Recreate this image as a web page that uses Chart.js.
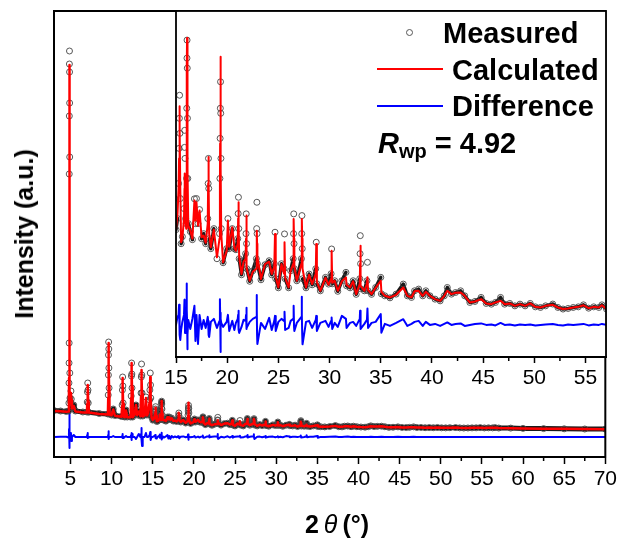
<!DOCTYPE html>
<html><head><meta charset="utf-8">
<script src="https://cdn.jsdelivr.net/npm/chart.js@4.4.0/dist/chart.umd.min.js"></script>
<style>
html,body{margin:0;padding:0;background:#fff;}
#wrap{position:relative;width:620px;height:542px;overflow:hidden;font-family:'Liberation Sans',Arial,sans-serif;color:#000;}
canvas{position:absolute;}
.t{position:absolute;white-space:nowrap;font-weight:bold;}
</style></head><body>
<div id="wrap">
<canvas id="main" width="620" height="542" style="left:0;top:0;width:620px;height:542px"></canvas>
<canvas id="inset" width="470" height="400" style="left:150px;top:0;width:470px;height:400px"></canvas>
<div class="t" style="left:24px;top:234px;font-size:25px;line-height:30px;transform:translate(-50%,-50%) rotate(-90deg);">Intensity (a.u.)</div>
<div class="t" style="left:237px;top:509px;width:200px;text-align:center;font-size:25px;line-height:30px;">2&thinsp;<span style="font-style:italic;font-weight:normal;">θ</span>&thinsp;(°)</div>
<div style="position:absolute;left:406px;top:29px;width:5px;height:5px;border:1px solid #555;border-radius:50%;"></div>
<div class="t" style="left:443px;top:18.5px;font-size:29px;line-height:29px;">Measured</div>
<div style="position:absolute;left:377px;top:68px;width:66px;height:2px;background:#ff0000;"></div>
<div class="t" style="left:452px;top:55.5px;font-size:29px;line-height:29px;">Calculated</div>
<div style="position:absolute;left:377px;top:105px;width:66px;height:2px;background:#0000ff;"></div>
<div class="t" style="left:452px;top:92px;font-size:29px;line-height:29px;">Difference</div>
<div class="t" style="left:378px;top:128.5px;font-size:29px;line-height:29px;"><i>R</i><span style="font-size:20px;vertical-align:-4.5px;">wp</span> = 4.92</div>
</div>
<script>
// 2theta grid (degrees)
const theta = [
 3.00, 3.80, 4.50, 4.78,
 4.81, 4.82, 4.83, 4.84, 4.85, 4.86, 4.87, 4.88, 4.89, 4.90, 4.91, 4.92, 4.94,
 5.02, 5.06, 5.10, 5.18, 5.40, 5.60,
 6.50, 7.00, 7.04, 7.07, 7.10, 7.13, 7.16, 7.22,
 8.50, 9.55, 9.59, 9.61, 9.62, 9.64, 9.66, 9.67, 9.69, 9.74, 10.00, 10.20, 10.40,
 11.20, 11.28, 11.31, 11.34, 11.37, 11.40, 11.48, 11.60, 11.75, 11.90,
 12.30, 12.38, 12.41, 12.43, 12.46, 12.48, 12.56, 12.80, 12.96, 13.10,
 13.30, 13.50, 13.58, 13.61, 13.64, 13.67, 13.70, 13.78, 14.00, 14.17, 14.30,
 14.45, 14.62, 14.65, 14.70, 14.73, 14.76, 14.85,
 15.00, 15.15, 15.25, 15.30, 15.33, 15.35, 15.38, 15.42, 15.50, 15.62,
 15.78, 15.83, 15.85, 15.88, 15.94, 16.00, 16.03, 16.05, 16.07, 16.08, 16.10, 16.12, 16.15, 16.20, 16.40, 16.60,
 16.80, 16.90, 17.00, 17.15, 17.30, 17.50, 17.70, 17.90, 18.10, 18.14, 18.17, 18.20, 18.24, 18.40,
 18.70, 19.00, 19.25, 19.29, 19.31, 19.33, 19.35, 19.37, 19.39, 19.42, 19.60,
 19.95, 20.07, 20.20, 20.50, 20.70, 20.85, 21.03, 21.07, 21.10, 21.13, 21.17,
 21.40, 21.60, 21.80, 21.84, 21.86, 21.89, 21.92, 22.20, 22.50, 22.85, 22.88, 22.90, 22.92, 22.95,
 23.30, 23.70, 24.10, 24.35, 24.60, 24.67, 24.74, 25.00,
 25.30, 25.55, 25.60, 25.66, 26.00, 26.20, 26.45, 26.48, 26.50, 26.53, 26.56, 26.80,
 27.25, 27.28, 27.30, 27.33, 27.36, 27.70, 28.00, 28.30, 28.65, 28.70, 28.76,
 29.10, 29.60, 29.90, 30.15, 30.20, 30.26, 30.50, 30.80, 31.20, 31.60, 31.66, 32.00, 32.30, 32.60,
 32.95, 32.98, 33.00, 33.03, 33.06, 33.40, 33.65, 33.70, 33.76, 34.10, 34.50, 35.00, 35.06, 35.40, 35.90, 36.50,
 37.20, 37.60, 38.00, 38.30, 38.70, 39.10, 39.40, 39.80, 40.30, 40.80, 41.20, 41.50, 41.90, 42.30, 42.80, 43.20, 43.70, 44.20, 44.80, 45.30, 45.80,
 46.20, 46.70, 47.10, 47.60, 48.10, 48.60, 49.10, 49.60, 50.10, 50.60, 51.10, 51.80, 52.30, 52.80, 53.30, 53.80, 54.30, 54.80, 55.30, 55.80, 56.30, 56.60, 57.05,
 58.5, 60.0, 62.5, 65.0, 67.5, 70.0
];
// measured intensity (a.u.)
const measured = [
 4750, 4700, 4650, 4700,
 5500, 7500, 9500, 11500, 28400, 34200, 39400, 40700, 38600, 35500, 30100, 8500, 6000,
 5600, 6700, 5900, 5000, 5300, 4700,
 4600, 4600, 5600, 6600, 7500, 6800, 5500, 4580,
 4450, 4400, 6300, 8300, 10300, 11600, 10900, 9000, 7000, 4400, 4300, 4900, 4250,
 4150, 5300, 6800, 8100, 7200, 5500, 4150, 4100, 4800, 4100,
 4100, 6200, 8200, 9500, 8400, 7000, 4100, 4400, 5300, 4300,
 4700, 4200, 6500, 8100, 9400, 8300, 6500, 4200, 4300, 6100, 4300,
 4600, 5800, 6800, 8500, 7300, 6000, 4100,
 3790, 3900, 4250, 4600, 4900, 5130, 4750, 4100, 3650, 3720,
 4000, 4610, 4780, 4500, 3900, 3850, 4300, 5000, 5500, 5680, 5400, 4900, 4300, 3850, 3770, 3690,
 4097, 3850, 4100, 3850, 3990, 3700, 3750, 3650, 3900, 4250, 4500, 4200, 3700, 3600,
 3800, 3500, 3750, 4300, 4700, 5000, 5264, 4950, 4500, 3800, 3460,
 3600, 3900, 3600, 3800, 3600, 3590, 3700, 3950, 4113, 3800, 3500,
 3340, 3480, 3550, 3750, 3947, 3650, 3400, 3275, 3380, 3500, 3800, 4063, 3750, 3450,
 3290, 3440, 3480, 3340, 3450, 3764, 3300, 3210,
 3450, 3400, 3747, 3300, 3210, 3380, 3500, 3750, 3947, 3650, 3400, 3280,
 3500, 3750, 3930, 3600, 3300, 3210, 3347, 3240, 3400, 3664, 3250,
 3180, 3314, 3247, 3350, 3597, 3250, 3280, 3175, 3280, 3364, 3230, 3210, 3280, 3145,
 3300, 3550, 3730, 3450, 3200, 3180, 3280, 3464, 3180, 3145, 3213, 3314, 3150, 3130, 3110, 3147,
 3247, 3130, 3114, 3180, 3197, 3130, 3180, 3130, 3097, 3080, 3130, 3213, 3147, 3163, 3180, 3130, 3064, 3074, 3114, 3054, 3047,
 3064, 3114, 3047, 3054, 3030, 3047, 3030, 3054, 3020, 3014, 3030, 3048, 3014, 2998, 3004, 3014, 3020, 3040, 3007, 3020, 3014, 3040, 2998,
 2990, 2960, 2940, 2920, 2900, 2890
];
// calculated profile (a.u.)
const calculated = [
 4700, 4680, 4620, 4650,
 5000, 6000, 8000, 11000, 20000, 30000, 37000, 39300, 37500, 33000, 26000, 12000, 6200,
 5500, 6500, 5800, 4950, 5200, 4650,
 4560, 4550, 5400, 6400, 7300, 6900, 5600, 4550,
 4400, 4350, 6000, 8000, 10000, 11500, 11000, 9200, 7200, 4350, 4280, 4850, 4230,
 4120, 5200, 6600, 8000, 7300, 5400, 4120, 4080, 4750, 4080,
 4080, 6000, 8000, 9500, 8500, 7100, 4080, 4350, 5300, 4280,
 4650, 4180, 6200, 7600, 8800, 8000, 6400, 4150, 4250, 6000, 4250,
 4500, 5600, 6500, 8100, 7200, 6000, 4050,
 3800, 3950, 4200, 4500, 4850, 5020, 4800, 4200, 3664, 3700,
 3900, 4200, 4350, 4200, 3850, 3800, 4100, 4800, 5400, 5700, 5500, 5100, 4400, 3830, 3780, 3700,
 4080, 3880, 4063, 3830, 3980, 3714, 3730, 3660, 3850, 4250, 4515, 4250, 3750, 3614,
 3790, 3514, 3700, 4200, 4650, 5100, 5514, 5100, 4400, 3750, 3464,
 3580, 3880, 3620, 3814, 3610, 3580, 3650, 3900, 4063, 3850, 3520,
 3347, 3470, 3500, 3700, 3930, 3680, 3410, 3280, 3370, 3400, 3600, 3780, 3650, 3520,
 3297, 3447, 3470, 3347, 3420, 3747, 3320, 3214,
 3447, 3350, 3664, 3310, 3214, 3380, 3450, 3700, 3897, 3700, 3420, 3280,
 3450, 3700, 3897, 3700, 3400, 3213, 3340, 3247, 3350, 3647, 3270,
 3180, 3310, 3240, 3300, 3580, 3260, 3280, 3180, 3275, 3314, 3240, 3213, 3275, 3147,
 3250, 3450, 3630, 3450, 3230, 3180, 3250, 3314, 3190, 3147, 3210, 3280, 3170, 3130, 3114, 3140,
 3213, 3130, 3114, 3175, 3180, 3130, 3170, 3130, 3097, 3080, 3130, 3180, 3147, 3160, 3164, 3130, 3064, 3074, 3097, 3054, 3047,
 3064, 3080, 3047, 3054, 3030, 3047, 3030, 3054, 3020, 3014, 3030, 3040, 3014, 2998, 3004, 3014, 3020, 3036, 3007, 3020, 3014, 3036, 2998,
 2985, 2955, 2935, 2915, 2895, 2885
];
// difference curve (a.u., around zero)
const difference = [
 0, 30, 20, -50,
 0, 300, 800, 1500, 4000, 2500, 1000, -300, -1100, -600, -200, 200, 0,
 0, 400, -400, 0, 200, 0,
 0, 0, 200, 300, 400, -100, -50, 0,
 0, 0, 200, 400, 570, 100, -100, -200, 0, 0, 0, 100, 0,
 0, 100, 200, 300, -100, -100, 0, 0, 100, 0,
 0, 200, 400, -300, -100, 300, 0, 0, -200, 0,
 300, 0, 300, 900, 600, -300, -900, 0, 0, 400, 0,
 0, 200, 300, 500, -200, -300, 0,
 0, 80, 100, 200, 100, 150, -100, -150, -50, 30,
 100, 250, 200, -80, -50, 0, 200, 413, 150, 50, -100, -243, -100, 50, -40, 60,
 190, -160, 100, -190, 100, -40, 50, -30, 80, 40, -50, -100, -120, 30,
 60, -30, 40, 257, 120, 0, -270, -80, 60, 20, -20,
 30, 100, -60, 40, -50, 20, 60, 100, 140, -50, -80,
 -20, 50, 40, 100, 170, -40, -30, 30, 60, 80, 297, 150, -100, -190,
 20, -40, 70, -50, 40, 90, -60, 30,
 60, 40, 130, -50, -30, 40, 60, 140, 190, -20, -60, 20,
 80, 280, 100, -100, -193, 30, 40, -30, 50, 90, -60,
 20, 40, -20, 40, 73, -40, 20, -20, 90, 60, -30, 20, 30, -10,
 60, 140, 80, -40, -40, 10, 50, 163, -30, 20, 30, 107, -77, 10, -10, 20,
 57, -10, 10, 30, 40, -10, 30, 0, 10, -10, 10, 25, 0, 10, 15, -10, 0, 10, 15, 0, 5,
 -5, 20, 0, 5, -5, 5, 0, 5, -5, 0, 5, 10, 0, -5, 5, 0, 5, 10, -5, 5, 0, 10, 0,
 0, 0, 0, 0, 0, 0
];
const mainTicks = [5, 10, 15, 20, 25, 30, 35, 40, 45, 50, 55, 60, 65, 70];
const mainMinor = [7.5, 12.5, 17.5, 22.5, 27.5, 32.5, 37.5, 42.5, 47.5, 52.5, 57.5, 62.5, 67.5];
const insetTicks = [15, 20, 25, 30, 35, 40, 45, 50, 55];
const insetMinor = [17.5, 22.5, 27.5, 32.5, 37.5, 42.5, 47.5, 52.5];

const n = Math.min(theta.length, measured.length, calculated.length, difference.length);
const pts = arr => theta.slice(0, n).map((t, i) => ({x: t, y: arr[i]}));

Chart.defaults.font.family = "'Liberation Sans', Arial, sans-serif";
Chart.defaults.color = '#000';

// hide the measured band on steep peak flanks (only the circles show there)
function steep(c) {
  const dx = Math.abs(c.p1.x - c.p0.x), dy = Math.abs(c.p1.y - c.p0.y);
  return dy > 2 && dy > dx * 8;
}

function datasets(o) {
  return [
    {label: 'Calculated', data: pts(calculated), yAxisID: 'y', borderColor: '#ff0000', borderWidth: o.calcW,
     pointRadius: 0, tension: 0, borderJoinStyle: 'round'},
    {label: 'Measured', data: pts(measured), yAxisID: 'y', borderColor: '#1a1a1a', borderWidth: o.measW,
     borderJoinStyle: 'round', borderCapStyle: 'round',
     pointRadius: 3, pointBorderColor: 'rgba(70,70,70,0.9)', pointBorderWidth: 1,
     pointBackgroundColor: 'rgba(0,0,0,0)', tension: 0,
     segment: {borderColor: c => steep(c) ? 'rgba(0,0,0,0)' : undefined}},
    {label: 'Difference', data: pts(difference), yAxisID: 'yd', borderColor: '#0000ff', borderWidth: o.diffW,
     pointRadius: 0, tension: 0, borderJoinStyle: 'round'}
  ];
}

const framePlugin = {
  id: 'frame',
  beforeDraw(chart, args, opts) {
    if (opts.fill) {
      const a = chart.chartArea, ctx = chart.ctx;
      ctx.save(); ctx.fillStyle = '#fff';
      ctx.fillRect(a.left, a.top, a.right - a.left, a.bottom - a.top);
      ctx.restore();
    }
  },
  afterDraw(chart, args, opts) {
    const a = chart.chartArea, ctx = chart.ctx, s = chart.scales.x;
    ctx.save();
    ctx.strokeStyle = '#000';
    ctx.lineWidth = opts.width;
    ctx.strokeRect(a.left, a.top, a.right - a.left, a.bottom - a.top);
    ctx.lineWidth = 1.5;
    ctx.beginPath();
    opts.minor.forEach(v => {
      const x = s.getPixelForValue(v);
      ctx.moveTo(x, a.bottom); ctx.lineTo(x, a.bottom + opts.minorLen);
    });
    ctx.stroke();
    ctx.restore();
  }
};

function xScale(min, max, ticks, tickLen, height) {
  return {
    type: 'linear', min: min, max: max, position: 'bottom',
    afterBuildTicks: s => { s.ticks = ticks.map(v => ({value: v})); },
    afterFit: s => { s.height = height; },
    ticks: {autoSkip: false, maxRotation: 0, minRotation: 0, padding: 3, font: {size: 21}, color: '#000'},
    grid: {display: true, drawOnChartArea: false, drawTicks: true, tickLength: tickLen, tickWidth: 1.5, tickColor: '#000'},
    border: {display: true, color: '#000', width: 2}
  };
}

new Chart(document.getElementById('main'), {
  type: 'line',
  data: {datasets: datasets({calcW: 2.5, measW: 5, diffW: 2})},
  options: {
    responsive: false, animation: false, devicePixelRatio: 1,
    layout: {padding: {left: 54, top: 11, right: 14, bottom: 0}},
    scales: {
      x: xScale(3, 70, mainTicks, 7, 85),
      y: {display: false, min: 100, max: 44700},
      yd: {display: false, min: -2000, max: 42600}
    },
    plugins: {legend: {display: false}, tooltip: {enabled: false},
      frame: {fill: false, width: 2, minor: mainMinor, minorLen: 4}}
  },
  plugins: [framePlugin]
});

new Chart(document.getElementById('inset'), {
  type: 'line',
  data: {datasets: datasets({calcW: 2, measW: 3.5, diffW: 2})},
  options: {
    responsive: false, animation: false, devicePixelRatio: 1,
    layout: {padding: {left: 26, top: 11, right: 14, bottom: 0}},
    scales: {
      x: xScale(15, 57, insetTicks, 6, 43),
      y: {display: false, min: 2520, max: 5970},
      yd: {display: false, min: -320, max: 3130}
    },
    plugins: {legend: {display: false}, tooltip: {enabled: false},
      frame: {fill: true, width: 1.8, minor: insetMinor, minorLen: 4}}
  },
  plugins: [framePlugin]
});
</script>
</body></html>
